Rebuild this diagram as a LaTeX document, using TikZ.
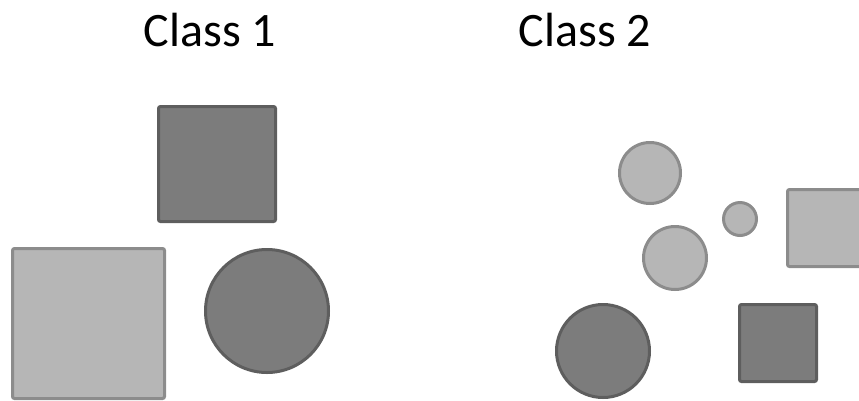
\documentclass[tikz,border=0pt]{standalone}
\usepackage{fontspec}
\setmainfont{Carlito}
\definecolor{darkfill}{HTML}{7C7C7C}
\definecolor{darkedge}{HTML}{5E5E5E}
\definecolor{lightfill}{HTML}{B6B6B6}
\definecolor{lightedge}{HTML}{8C8C8C}
\tikzset{
  darkshape/.style={fill=darkfill,draw=darkedge,line width=3pt,rounded corners=2pt},
  lightshape/.style={fill=lightfill,draw=lightedge,line width=3pt,rounded corners=2pt},
  classlabel/.style={font=\fontsize{48}{50}\selectfont,inner sep=0pt,anchor=base}
}

\begin{document}
\begin{tikzpicture}[x=1pt,y=-1pt]
\useasboundingbox (0,0) rectangle (859,400);
\clip (0,0) rectangle (859,400);
% headings
\node[classlabel] (class1) at (210,46) {Class 1};
\node[classlabel] (class2) at (585,46) {Class 2};
% class 1
\draw[darkshape] (158.5,106.5) rectangle (275.5,221.5);
\draw[lightshape] (12.5,248.5) rectangle (164.5,398.5);
\draw[darkshape] (267,311) circle (61.5);
% class 2
\draw[lightshape] (650,173) circle (30.5);
\draw[lightshape] (740,219) circle (16.5);
\draw[lightshape] (675,258) circle (31.5);
\draw[lightshape] (787.5,189.5) rectangle (866,266.5);
\draw[darkshape] (603,351) circle (46.5);
\draw[darkshape] (739.5,304.5) rectangle (816.5,381.5);
\end{tikzpicture}
\end{document}
